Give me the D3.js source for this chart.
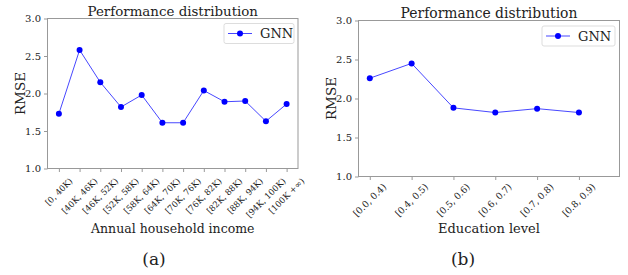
<!DOCTYPE html>
<html><head><meta charset="utf-8">
<script src="https://cdn.jsdelivr.net/npm/d3@7"></script>
<style>body{margin:0;background:#fff}svg{display:block}text{font-family:"DejaVu Serif",serif;fill:#222}</style>
</head><body><svg id="c" width="628" height="275"></svg>
<script>
const incomeCats = ["[0, 40K)","[40K, 46K)","[46K, 52K)","[52K, 58K)","[58K, 64K)","[64K, 70K)","[70K, 76K)","[76K, 82K)","[82K, 88K)","[88K, 94K)","[94K, 100K)","[100K +\u221e)"];
const incomeRMSE = [1.73, 2.58, 2.15, 1.82, 1.98, 1.61, 1.61, 2.04, 1.89, 1.90, 1.63, 1.86];
const eduCats = ["[0.0, 0.4)","[0.4, 0.5)","[0.5, 0.6)","[0.6, 0.7)","[0.7, 0.8)","[0.8, 0.9)"];
const eduRMSE = [2.26, 2.45, 1.88, 1.82, 1.87, 1.82];
const yTicks = [1.0, 1.5, 2.0, 2.5, 3.0];
const seriesName = "GNN";

const svg = d3.select("#c");

function panel(o){
  const g = svg.append("g");
  const x = d3.scaleLinear().domain(o.xdom).range([o.l, o.r]);
  const y = d3.scaleLinear().domain([1,3]).range([o.b, o.t]);
  g.append("rect").attr("x",o.l).attr("y",o.t).attr("width",o.r-o.l).attr("height",o.b-o.t)
    .attr("fill","none").attr("stroke","#999").attr("stroke-width",1);
  const ya = g.append("g").attr("transform",`translate(${o.l},0)`)
    .call(d3.axisLeft(y).tickValues(yTicks).tickFormat(d3.format(".1f")).tickSize(3.5).tickPadding(3));
  ya.select(".domain").remove();
  ya.selectAll("line").attr("stroke","#999");
  ya.selectAll("text").style("font-size","10px").attr("fill","#222");
  const xa = g.append("g").attr("transform",`translate(0,${o.b})`)
    .call(d3.axisBottom(x).tickValues(d3.range(o.cats.length)).tickFormat(i=>o.cats[i]).tickSize(3.5));
  xa.select(".domain").remove();
  xa.selectAll("line").attr("stroke","#999");
  const fs = o.tfs;
  xa.selectAll("text").style("font-size",fs+"px").attr("fill","#222")
    .attr("text-anchor","middle").attr("dy","0").attr("y",0)
    .each(function(){
      const L = this.getComputedTextLength();
      const h = fs*1.16;
      const H = (L+h)*Math.SQRT1_2;
      const cy = o.lpad + H/2;
      const up = 0.26*fs*Math.SQRT1_2;
      d3.select(this).attr("transform",`translate(${up},${cy+up}) rotate(-45)`);
    });
  g.append("path").datum(o.vals)
    .attr("d", d3.line().x((d,i)=>x(i)).y(d=>y(d)))
    .attr("fill","none").attr("stroke","#0000ff").attr("stroke-opacity",0.72).attr("stroke-width",1);
  g.selectAll("circle.pt").data(o.vals).enter().append("circle")
    .attr("cx",(d,i)=>x(i)).attr("cy",d=>y(d)).attr("r",3).attr("fill","#0000ff");
  g.append("text").attr("x",(o.l+o.r)/2).attr("y",o.t-2.5).attr("text-anchor","middle")
    .style("font-size",o.titfs+"px").text("Performance distribution");
  g.append("text").attr("transform",`translate(${o.l-23},${(o.t+o.b)/2}) rotate(-90)`)
    .attr("text-anchor","middle").style("font-size","13.5px").text("RMSE");
  g.append("text").attr("x",(o.l+o.r)/2).attr("y",232.5).attr("text-anchor","middle")
    .style("font-size",o.xlfs+"px").text(o.xlabel);
  g.append("text").attr("x",o.capx).attr("y",265).attr("text-anchor","middle")
    .style("font-size","17px").text(o.cap);
  const lg = g.append("g");
  lg.append("rect").attr("x",o.lgx).attr("y",o.lgy).attr("width",o.lgw).attr("height",20).attr("rx",2)
    .attr("fill","#fff").attr("stroke","#ddd");
  lg.append("line").attr("x1",o.lgx+4).attr("x2",o.lgx+28).attr("y1",o.lgy+10).attr("y2",o.lgy+10)
    .attr("stroke","#0000ff").attr("stroke-opacity",0.72);
  lg.append("circle").attr("cx",o.lgx+16).attr("cy",o.lgy+10).attr("r",3).attr("fill","#0000ff");
  lg.append("text").attr("x",o.lgx+36).attr("y",o.lgy+14.5).style("font-size","13px").text(seriesName);
}

panel({l:47.5,r:298,t:18.5,b:168.5,xdom:[-0.55,11.55],cats:incomeCats,vals:incomeRMSE,tfs:8.5,lpad:8,
  titfs:13.4,xlfs:12.5,xlabel:"Annual household income",cap:"(a)",capx:154,lgx:224,lgy:23.5,lgw:70});
panel({l:358.5,r:619.5,t:20.5,b:176.5,xdom:[-0.27,5.97],cats:eduCats,vals:eduRMSE,tfs:9.2,lpad:5.5,
  titfs:13.9,xlfs:13,xlabel:"Education level",cap:"(b)",capx:463,lgx:542,lgy:26,lgw:73});
</script></body></html>
